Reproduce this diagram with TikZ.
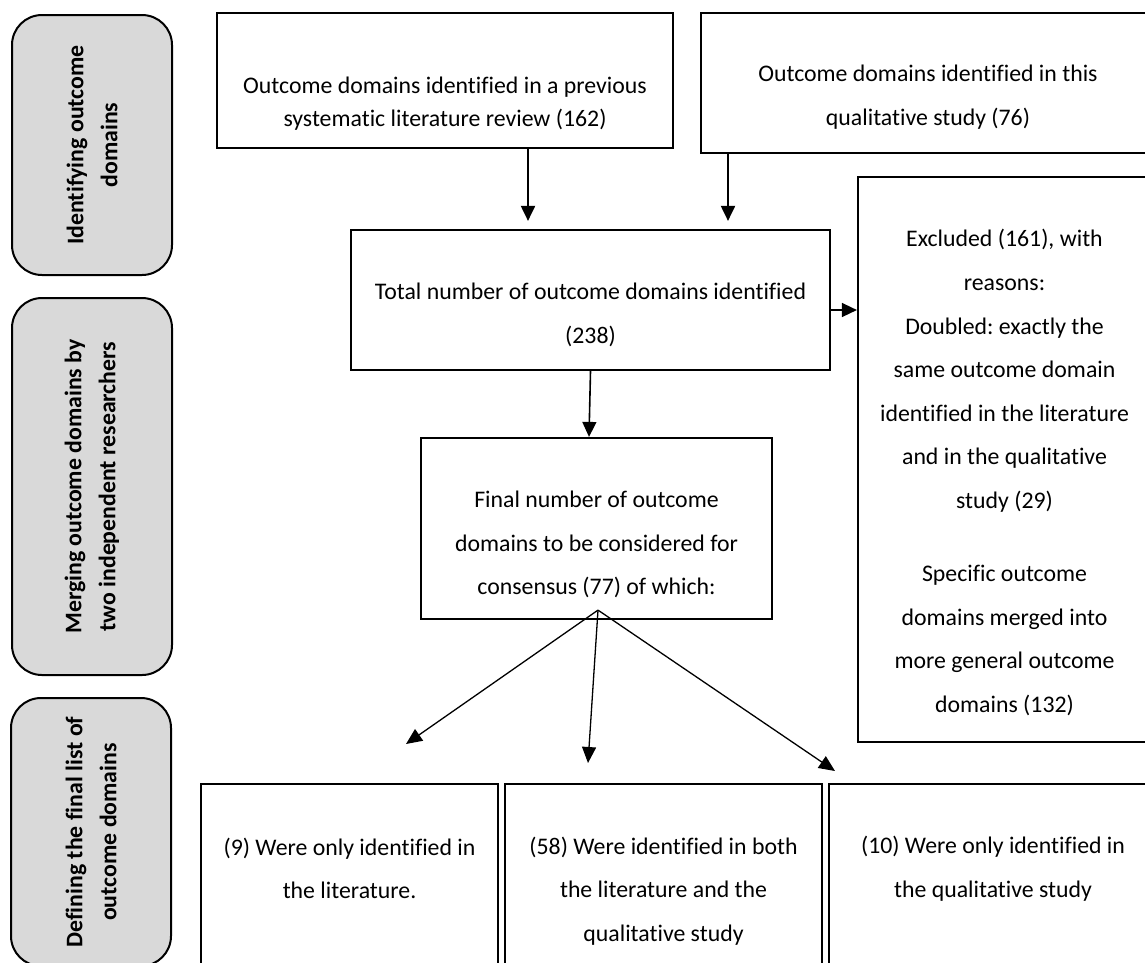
\documentclass[tikz,border=0pt]{standalone}
\usepackage{fontspec}
\setmainfont{Carlito}[Ligatures={NoCommon}]
\usetikzlibrary{arrows.meta}
\definecolor{sidegray}{RGB}{217,217,217}
\frenchspacing
\begin{document}
\begin{tikzpicture}[x=1pt,y=-1pt,
  box/.style={draw, line width=2.2pt, rectangle, inner sep=0pt},
  side/.style={draw, line width=2pt, fill=sidegray, rounded corners=30pt, inner sep=0pt},
  txt/.style={align=center, font=\fontsize{23.8}{43.6}\selectfont, inner sep=0pt},
  txtA/.style={align=center, font=\fontsize{23.8}{33.4}\selectfont, inner sep=0pt},
  sidetxt/.style={align=center, font=\fontsize{23.8}{34}\selectfont\bfseries, rotate=90, inner sep=0pt},
  arr/.style={-{Triangle[length=15pt,width=14pt]}, line width=2pt},
  thinarr/.style={-{Triangle[length=16pt,width=14pt]}, line width=1.3pt}]
\useasboundingbox (0,0) rectangle (1145,962);
\clip (0,0) rectangle (1145,962);

% side phase boxes
\node[side, minimum width=160pt, minimum height=260pt] (s1) at (92,145) {};
\node[side, minimum width=160pt, minimum height=377pt] (s2) at (92,486.5) {};
\node[side, minimum width=160pt, minimum height=268pt] (s3) at (91,832) {};
\node[sidetxt] (s1t) at (s1) {Identifying outcome\\domains};
\node[sidetxt] (s2t) at (s2) {Merging outcome domains by\\two independent researchers};
\node[sidetxt] (s3t) at (s3) {Defining the final list of\\outcome domains};

% boxes
\node[box, minimum width=456pt, minimum height=135pt] (A) at (445,80.5) {};
\node[box, minimum width=454pt, minimum height=140pt] (B) at (928,83) {};
\node[box, minimum width=479pt, minimum height=140pt] (C) at (590.5,300) {};
\node[box, minimum width=293pt, minimum height=565pt] (D) at (1004.5,459.5) {};
\node[box, minimum width=351pt, minimum height=181pt] (E) at (596.5,528.5) {};
\node[box, minimum width=297pt, minimum height=206pt] (F1) at (349.5,887) {};
\node[box, minimum width=317pt, minimum height=206pt] (F2) at (663.5,887) {};
\node[box, minimum width=328pt, minimum height=206pt] (F3) at (993,887) {};

% texts
\node[txtA] (At) at (445,103.5) {Outcome domains identified in a previous\\systematic literature review (162)};
\node[txt] (Bt) at (928,97) {Outcome domains identified in this\\qualitative study (76)};
\node[txt] (Ct) at (590.5,314.7) {Total number of outcome domains identified\\(238)};
\node[txt] (Dt1) at (1004.5,371) {Excluded (161), with\\reasons:\\Doubled: exactly the\\same outcome domain\\identified in the literature\\and in the qualitative\\study (29)};
\node[txt] (Dt2) at (1004.5,640.5) {Specific outcome\\domains merged into\\more general outcome\\domains (132)};
\node[txt] (Et) at (596.5,544.5) {Final number of outcome\\domains to be considered for\\consensus (77) of which:};
\node[txt] (F1t) at (349.5,868.5) {(9) Were only identified in\\the literature.};
\node[txt] (F2t) at (663.5,891) {(58) Were identified in both\\the literature and the\\qualitative study};
\node[txt] (F3t) at (993,868.5) {(10) Were only identified in\\the qualitative study};

% connectors
\coordinate (xa) at (528,0);
\coordinate (xb) at (728,0);
\draw[arr, shorten >=8pt] (xa |- A.south) -- (xa |- C.north);
\draw[arr, shorten >=8pt] (xb |- B.south) -- (xb |- C.north);
\path (C.east) ++(0,10) coordinate (cd);
\draw[arr, line width=1.5pt] (cd) -- (cd -| D.west);
\draw[arr, line width=1.6pt] (C.south) -- ([xshift=-7.5pt]E.north);
\coordinate (fan) at ([xshift=1.5pt,yshift=10pt]E.south);
\coordinate (t1) at (406,744);
\coordinate (t2) at (588,763);
\coordinate (t3) at (835,771);
\draw[thinarr] (fan) -- (t1);
\draw[thinarr] (fan) -- (t2);
\draw[thinarr] (fan) -- (t3);
\end{tikzpicture}
\end{document}
